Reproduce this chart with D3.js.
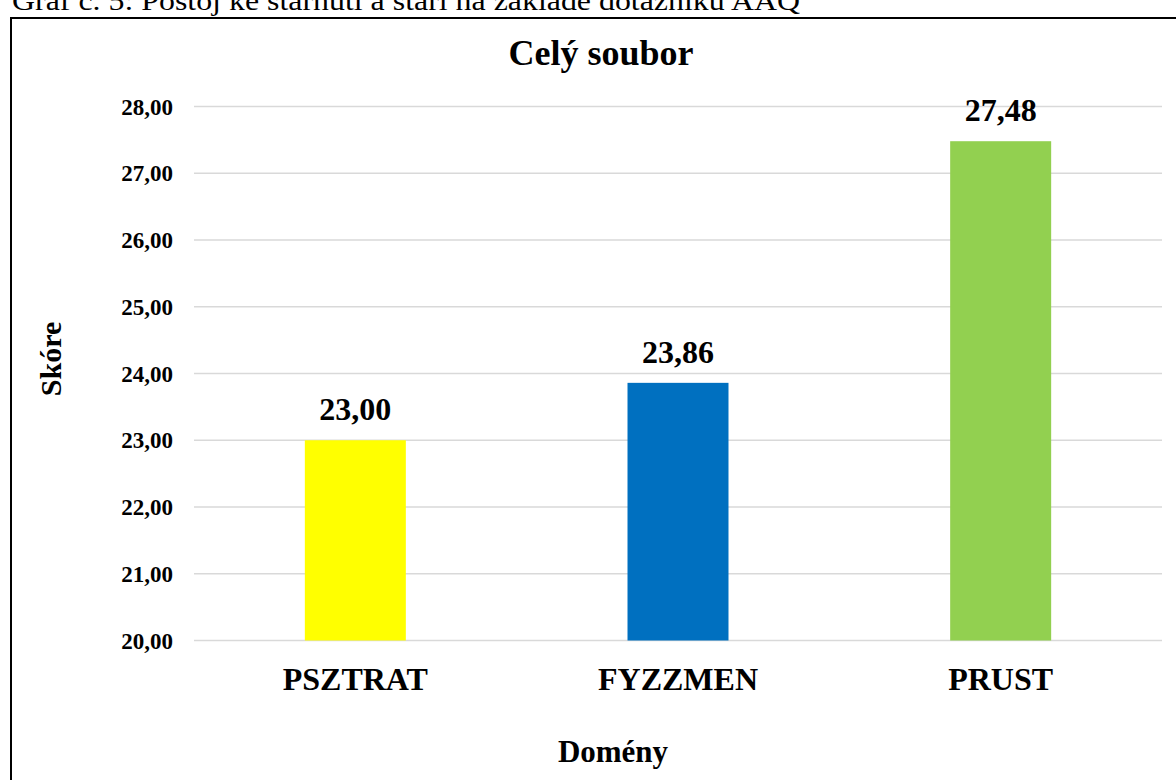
<!DOCTYPE html>
<html>
<head>
<meta charset="utf-8">
<script src="https://cdn.jsdelivr.net/npm/d3@7"></script>
<style>
  body { margin: 0; background: #fff; }
  svg { display: block; font-family: "Liberation Serif", "Times New Roman", serif; }
</style>
</head>
<body>
<div id="chart"></div>
<script>
// data
var categories = ["PSZTRAT", "FYZZMEN", "PRUST"];
var values = [23.00, 23.86, 27.48];
var barColors = ["#FFFF00", "#0070C0", "#92D050"];
var yTicks = [20, 21, 22, 23, 24, 25, 26, 27, 28];

var width = 1176, height = 780;
var fmt = function(v) { return v.toFixed(2).replace(".", ","); };

var svg = d3.select("#chart").append("svg")
    .attr("width", width)
    .attr("height", height);

// caption above the frame (cut off at top)
svg.append("text")
    .attr("x", 12)
    .attr("y", 10)
    .attr("font-size", 27)
    .attr("textLength", 788)
    .attr("lengthAdjust", "spacingAndGlyphs")
    .text("Graf č. 5: Postoj ke stárnutí a stáří na základě dotazníku AAQ");

// chart frame
svg.append("rect")
    .attr("x", 11).attr("y", 18)
    .attr("width", 1300).attr("height", 900)
    .attr("fill", "#fff")
    .attr("stroke", "#000")
    .attr("stroke-width", 2);

var x = d3.scaleBand()
    .domain(categories)
    .range([194, 1162])
    .paddingInner(0.687)
    .paddingOuter(0.3435);

var y = d3.scaleLinear()
    .domain([20, 28])
    .range([640.5, 106.5]);

// gridlines
svg.append("g").selectAll("line")
    .data(yTicks)
    .join("line")
    .attr("x1", 194).attr("x2", 1162)
    .attr("y1", d => y(d)).attr("y2", d => y(d))
    .attr("stroke", "#d9d9d9")
    .attr("stroke-width", 1.5);

// y tick labels
svg.append("g").selectAll("text")
    .data(yTicks)
    .join("text")
    .attr("x", 173)
    .attr("y", d => y(d))
    .attr("dy", "0.35em")
    .attr("text-anchor", "end")
    .attr("font-size", 23)
    .attr("font-weight", "bold")
    .text(d => fmt(d));

// bars
svg.append("g").selectAll("rect")
    .data(values)
    .join("rect")
    .attr("x", (d, i) => x(categories[i]))
    .attr("y", d => y(d))
    .attr("width", x.bandwidth())
    .attr("height", d => y(20) - y(d))
    .attr("fill", (d, i) => barColors[i]);

// value labels
svg.append("g").selectAll("text")
    .data(values)
    .join("text")
    .attr("x", (d, i) => x(categories[i]) + x.bandwidth() / 2)
    .attr("y", d => y(d) - 20)
    .attr("text-anchor", "middle")
    .attr("font-size", 32)
    .attr("font-weight", "bold")
    .text(d => fmt(d));

// category labels
svg.append("g").selectAll("text")
    .data(categories)
    .join("text")
    .attr("x", d => x(d) + x.bandwidth() / 2)
    .attr("y", 690)
    .attr("text-anchor", "middle")
    .attr("font-size", 32)
    .attr("font-weight", "bold")
    .text(d => d);

// title
svg.append("text")
    .attr("x", 601).attr("y", 65)
    .attr("text-anchor", "middle")
    .attr("font-size", 36)
    .attr("font-weight", "bold")
    .text("Celý soubor");

// axis titles
svg.append("text")
    .attr("transform", "translate(61,359) rotate(-90)")
    .attr("text-anchor", "middle")
    .attr("font-size", 30)
    .attr("font-weight", "bold")
    .text("Skóre");

svg.append("text")
    .attr("x", 613).attr("y", 762)
    .attr("text-anchor", "middle")
    .attr("font-size", 31)
    .attr("font-weight", "bold")
    .text("Domény");
</script>
</body>
</html>
